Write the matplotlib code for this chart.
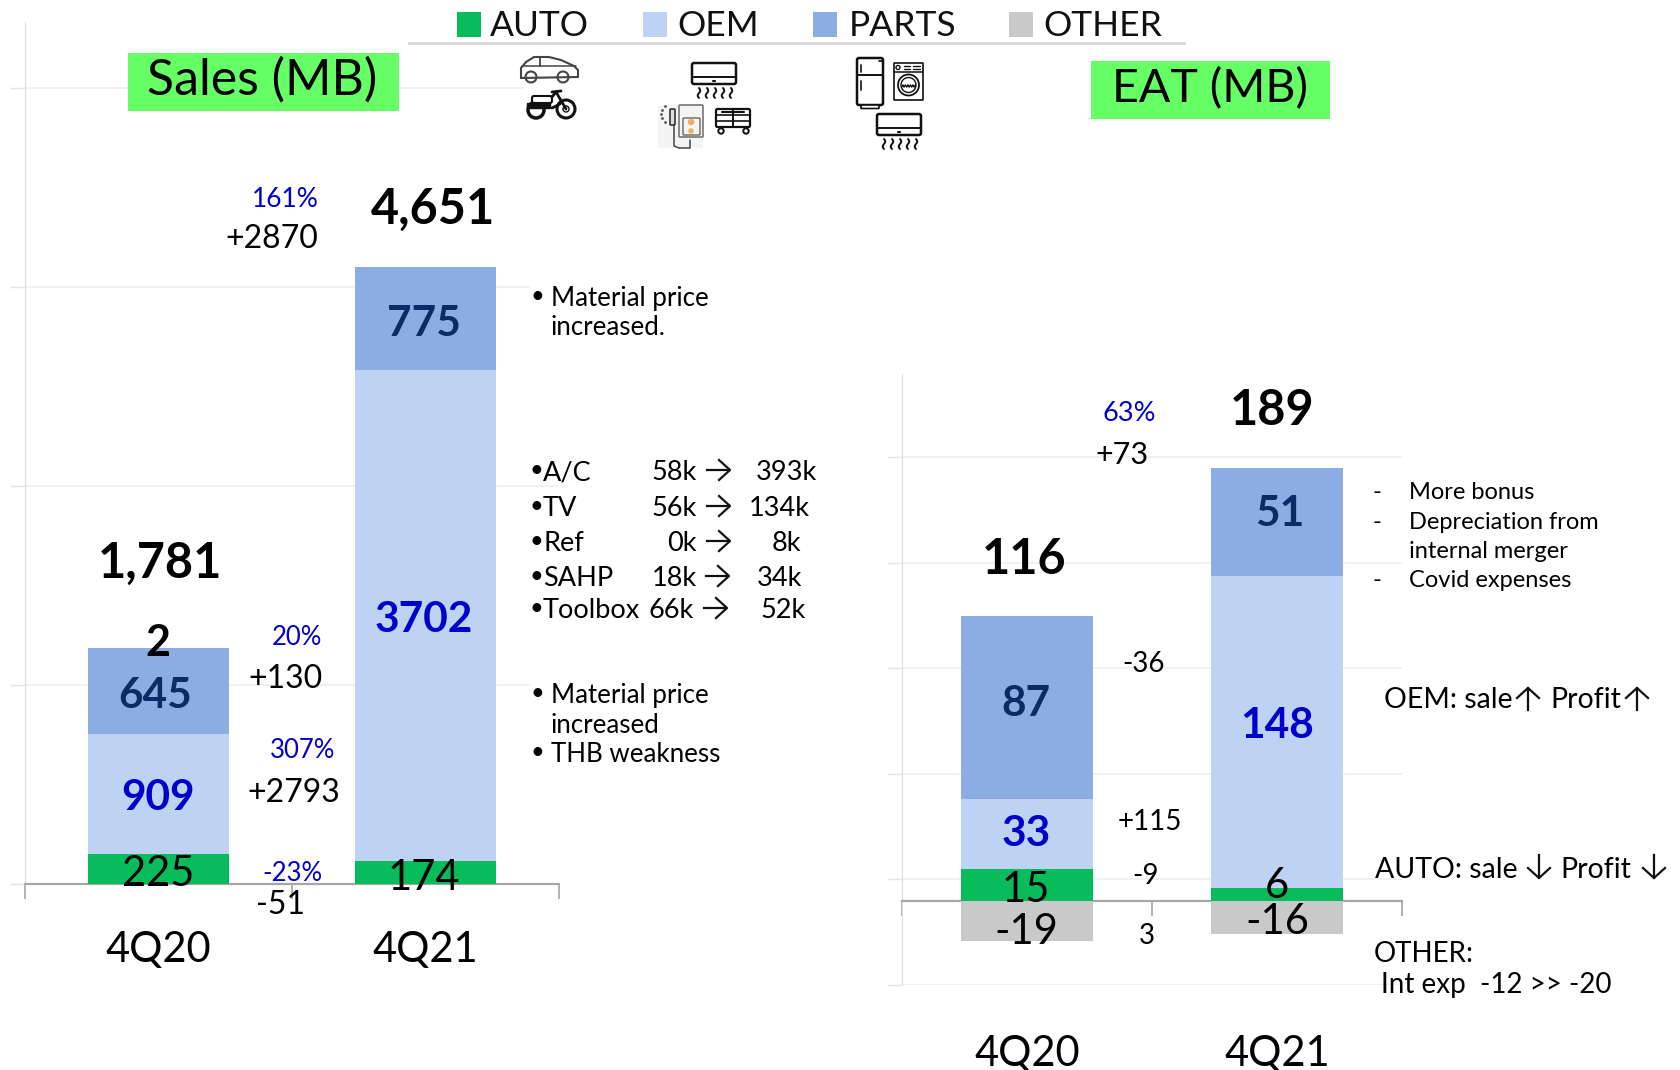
import numpy as np
import matplotlib
matplotlib.use("Agg")
import matplotlib.pyplot as plt
from matplotlib.patches import Rectangle, Circle, FancyBboxPatch

plt.rcParams['font.family'] = ['Lato', 'DejaVu Sans']

W, H = 1680, 1070
quarters = ['4Q20', '4Q21']
series_names = ['AUTO', 'OEM', 'PARTS', 'OTHER']
sales_auto = [225, 174]
sales_oem = [909, 3702]
sales_parts = [645, 775]
sales_other = [2, 0]
eat_auto = [15, 6]
eat_oem = [33, 148]
eat_parts = [87, 51]
eat_other = [-19, -16]
sales_totals = ['1,781', '4,651']
eat_totals = ['116', '189']

C_AUTO, C_OEM, C_PARTS, C_OTHER = '#08BC5B', '#BED3F3', '#8CACE4', '#C9C9C9'
NAVY, BLUE = '#0B2A66', '#0000CC'
GRID, AXIS = '#EFEFEF', '#A6A6A6'

fig = plt.figure(figsize=(16.8, 10.7), dpi=100, facecolor='white')


def axes_px(x0, y0, x1, y1):
    return fig.add_axes([x0 / W, 1 - y1 / H, (x1 - x0) / W, (y1 - y0) / H])


def style(ax, ylim, yticks, label_pad):
    ax.set_xlim(0, 2)
    ax.set_ylim(*ylim)
    ax.set_yticks(yticks)
    ax.set_yticklabels([])
    ax.set_xticks([0, 1, 2])
    ax.set_xticklabels([])
    ax.set_xticks([0.5, 1.5], minor=True)
    ax.set_xticklabels(quarters, minor=True)
    ax.tick_params(axis='x', which='minor', length=0, pad=label_pad, labelsize=30, labelcolor='black')
    ax.tick_params(axis='x', which='major', length=11, width=1.2, color=AXIS)
    ax.tick_params(axis='y', length=11, width=1, color='#E4E4E4')
    ax.grid(axis='y', color=GRID, lw=1.2)
    ax.set_axisbelow(True)
    for s in ('top', 'right'):
        ax.spines[s].set_visible(False)
    ax.spines['left'].set_color('#DDDDDD')
    ax.spines['bottom'].set_color(AXIS)
    ax.spines['bottom'].set_linewidth(1.6)
    ax.spines['bottom'].set_position(('data', 0))
    ax.patch.set_alpha(0)


# ---- Sales chart
ax1 = axes_px(25, 22, 559, 884)
pos = np.array([0.5, 1.5])
bw = 0.526
b = np.zeros(2)
for vals, c in [(sales_auto, C_AUTO), (sales_oem, C_OEM), (sales_parts, C_PARTS), (sales_other, C_OTHER)]:
    ax1.bar(pos, vals, bw, bottom=b, color=c, zorder=3)
    b = b + np.array(vals)
style(ax1, (0, 6500), [0, 1500, 3000, 4500, 6000], 34)

# ---- EAT chart
ax2 = axes_px(902, 374, 1402, 985)
bw2 = 0.528
b = np.zeros(2)
for vals, c in [(eat_auto, C_AUTO), (eat_oem, C_OEM), (eat_parts, C_PARTS)]:
    ax2.bar(pos, vals, bw2, bottom=b, color=c, zorder=3)
    b = b + np.array(vals)
ax2.bar(pos, eat_other, bw2, color=C_OTHER, zorder=3)
style(ax2, (-40, 249.5), [-40, 10, 60, 110, 160, 210], 97)

# ---- Overlay in reference pixels
ov = fig.add_axes([0, 0, 1, 1], zorder=10)
ov.set_xlim(0, W)
ov.set_ylim(H, 0)
ov.axis('off')


def T(x, y, s, size=20, color='black', ha='center', bold=False):
    ov.text(x, y + 2.5, s, fontsize=size, color=color, ha=ha, va='center',
            fontweight='bold' if bold else 'normal')


def rect(x0, y0, x1, y1, fc='white', **kw):
    ov.add_patch(Rectangle((x0, y0), x1 - x0, y1 - y0, fc=fc, ec='none', **kw))


# white text boxes that hide the gridlines
rect(530, 270, 562, 340)
rect(530, 675, 562, 770)
rect(524, 70, 562, 110)

# titles
rect(128, 53, 399, 111, fc='#66FF66')
T(262, 78, 'Sales (MB)', 36)
rect(1091, 61, 1330, 119, fc='#66FF66')
T(1210, 86, 'EAT (MB)', 33.5)

# legend
ov.plot([409, 1184], [43, 43], color='#D9D9D9', lw=2)
for name, c, x0, xt in zip(series_names, [C_AUTO, C_OEM, C_PARTS, C_OTHER],
                           [457, 643, 813, 1009], [490, 677, 849, 1043]):
    rect(x0, 12, x0 + 24, 37, fc=c)
    T(xt, 24, name, 25.5, ha='left', color='#111111')

# Sales labels
T(160, 561, sales_totals[0], 35, bold=True)
T(433, 207, sales_totals[1], 35, bold=True)
T(158, 640, str(sales_other[0]), 31, bold=True)
T(155, 693, str(sales_parts[0]), 30.5, NAVY, bold=True)
T(158, 796, str(sales_oem[0]), 30.5, BLUE, bold=True)
T(158, 872, str(sales_auto[0]), 30)
T(424, 321, str(sales_parts[1]), 30.5, NAVY, bold=True)
T(424, 617, str(sales_oem[1]), 30.5, BLUE, bold=True)
T(424, 875, str(sales_auto[1]), 30)

T(285, 197, '161%', 19, BLUE)
T(272, 237, '+2870', 23)
T(297, 635, '20%', 18.5, BLUE)
T(285, 676, '+130', 23)
T(303, 748, '307%', 18.5, BLUE)
T(294, 790, '+2793', 23)
T(292, 871, '-23%', 18.5, BLUE)
T(281, 903, '-51', 23)

# Sales notes
for y, s, bul in [(296, 'Material price', True), (325, 'increased.', False),
                  (693, 'Material price', True), (723, 'increased', False),
                  (752, 'THB weakness', True)]:
    if bul:
        T(537, y - 2, '•', 17)
    T(551, y, s, 18.6, ha='left')

table_items = ['A/C', 'TV', 'Ref', 'SAHP', 'Toolbox']
table_before = ['58k', '56k', '0k', '18k', '66k']
table_after = ['393k', '134k', '8k', '34k', '52k']
table_y = [470, 506, 541, 576, 608]
left_end = [697, 697, 697, 697, 694]
arrow_x = [707, 707, 707, 706, 704]
right_end = [817, 810, 801, 802, 806]
for it, a, c, y, le, ax_, re in zip(table_items, table_before, table_after, table_y,
                                    left_end, arrow_x, right_end):
    T(536, y - 2, '•', 17)
    T(543, y, it, 19.5, ha='left')
    T(le, y, a, 19.5, ha='right')
    T(re, y, c, 19.5, ha='right')
    ov.plot([ax_, ax_ + 22], [y, y], color='#111111', lw=1.6)
    ov.plot([ax_ + 12, ax_ + 23, ax_ + 12], [y - 10, y, y + 10], color='#111111', lw=1.6)

# EAT labels
T(1024, 557, eat_totals[0], 35, bold=True)
T(1272, 408, eat_totals[1], 35, bold=True)
T(1026, 701, str(eat_parts[0]), 30.5, NAVY, bold=True)
T(1026, 832, str(eat_oem[0]), 30.5, BLUE, bold=True)
T(1026, 887, str(eat_auto[0]), 30)
T(1026, 930, str(eat_other[0]), 30)
T(1280, 512, str(eat_parts[1]), 30.5, NAVY, bold=True)
T(1277, 723, str(eat_oem[1]), 30.5, BLUE, bold=True)
T(1277, 883, str(eat_auto[1]), 30)
T(1277, 920, str(eat_other[1]), 30)

T(1129, 411, '63%', 19.5, BLUE)
T(1122, 452, '+73', 22)
T(1143, 661, '-36', 20)
T(1150, 819, '+115', 20)
T(1146, 874, '-9', 20)
T(1147, 933, '3', 20)

# EAT notes
for y, s, dash in [(490, 'More bonus', True), (520, 'Depreciation from', True),
                   (549, 'internal merger', False), (578, 'Covid expenses', True)]:
    if dash:
        T(1377, y, '-', 17)
    T(1409, y, s, 17, ha='left')


def varrow(x, y0, y1, tip):
    ov.plot([x, x], [y0, y1], color='#111111', lw=1.6)
    d = 10 if tip == y1 else -10
    ov.plot([x - 11, x, x + 11], [tip - d, tip, tip - d], color='#111111', lw=1.6)


T(1384, 698, 'OEM: sale', 20.5, ha='left')
T(1550, 698, 'Profit', 20.5, ha='left')
varrow(1528, 688, 710, 688)
varrow(1637, 688, 710, 688)
T(1375, 867, 'AUTO: sale', 20.5, ha='left')
T(1560, 867, 'Profit', 20.5, ha='left')
varrow(1539, 855, 878, 878)
varrow(1654, 855, 878, 878)
T(1374, 951, 'OTHER:', 20, ha='left')
T(1381, 982, 'Int exp  -12 >> -20', 20, ha='left')

# ---- Icons (simple line drawings)
INK = '#111111'


def box(x0, y0, x1, y1, lw=1.6, r=1.5, fc='white', ec=INK):
    ov.add_patch(FancyBboxPatch((x0, y0), x1 - x0, y1 - y0, boxstyle=f'round,pad=0,rounding_size={r}',
                                fc=fc, ec=ec, lw=lw))


def line(xs, ys, lw=1.5, c=INK):
    ov.plot(xs, ys, color=c, lw=lw, solid_capstyle='round')


def circ(x, y, r, lw=1.5, fc='white', ec=INK):
    ov.add_patch(Circle((x, y), r, fc=fc, ec=ec, lw=lw))


def ac(x0, y0, x1, y1, wy0, wy1):
    box(x0, y0, x1, y1, lw=1.8, r=2)
    my = y0 + (y1 - y0) * 0.68
    line([x0, x1], [my, my], 1.4)
    line([(x0 + x1) / 2 - 1, (x0 + x1) / 2 + 1], [(my + y1) / 2] * 2, 1.5)
    for i in range(5):
        x = x0 + 7 + i * (x1 - x0 - 12) / 4
        t = np.linspace(0, 1, 12)
        line(x + 1.3 * np.sin(t * 2 * np.pi), wy0 + (wy1 - wy0) * t, 1.4)


# car
cx = [521, 521, 526, 534, 549, 561, 574, 578, 578, 521]
cy = [78, 68, 62, 57, 57, 60, 66, 70, 77, 78]
line(cx, cy, 1.5, '#444444')
line([540, 540], [58, 66], 1.3, '#444444')
line([522, 576], [66, 66], 1.1, '#444444')
circ(531, 77, 5.5, 1.5, ec='#444444')
circ(563, 77, 5.5, 1.5, ec='#444444')
# motorbike
circ(536, 110, 8, 2.5)
circ(566, 109, 9, 2.2)
circ(566, 109, 3, 1)
ov.add_patch(Rectangle((527, 103), 23, 5, fc=INK, ec=INK))
box(532, 96, 552, 103, lw=1.5, r=2)
line([552, 556, 566], [97, 92, 109], 2)
line([552, 561], [92, 91], 2)
line([552, 560], [108, 104], 2)

# AC, heater, toolbox
ac(692, 63, 736, 84, 88, 98)
rect(658, 105, 703, 148, fc='#F4F4F4')
box(679, 105, 703, 137, lw=1.2, r=1, fc='#F4F4F4', ec='#777777')
box(683, 118, 700, 135, lw=1, r=1, fc='#F4F4F4', ec='#666666')
circ(691, 122, 3.3, 0, fc='#EDB45A', ec='none')
circ(691, 131, 2.8, 0, fc='#EDB45A', ec='none')
line([674, 674, 679, 690, 690], [125, 146, 148, 148, 140], 1.1, '#444444')
box(670, 109, 675, 125, lw=1.2, r=1, fc='#DDDDDD', ec='#333333')
for px, py in [(665, 106), (662, 110), (661, 114), (662, 118), (665, 122)]:
    ov.plot([px], [py], '.', color='#555555', ms=2)
box(716, 109, 750, 127, lw=1.6, r=1.5)
line([716, 750], [115, 115], 1.2)
line([716, 750], [121, 121], 1.2)
line([733, 733], [109, 127], 1.4)
line([722, 727, 738, 744], [112, 112, 112, 112], 1.5)
circ(721, 131, 2.7, 1.4)
circ(746, 131, 2.7, 1.4)

# fridge, washer, AC
box(857, 58, 883, 105, lw=1.8, r=2)
line([857, 883], [75, 75], 1.4)
line([861, 861], [65, 72], 1.2)
line([861, 861], [81, 90], 1.2)
line([879, 882], [61, 61], 1.2)
box(861, 105, 879, 108.5, lw=1.2, r=0.5)
box(894, 63, 923, 100, lw=1.2, r=0.5)
line([894, 923], [72, 72], 1.1)
circ(898, 67.5, 2, 1)
line([904, 910], [66, 66], 1)
line([904, 910], [69, 69], 1)
line([913, 920], [66, 66], 1)
line([913, 920], [69, 69], 1)
circ(908.5, 85, 10.5, 1.3)
circ(908.5, 85, 7.5, 1)
t = np.linspace(-7, 7, 30)
line(908.5 + t, 86 + 1.2 * np.sin(t * 2.5), 0.9)
ac(877, 114, 921, 135, 139, 149)

fig.savefig('out.png', dpi=100, facecolor='white')
